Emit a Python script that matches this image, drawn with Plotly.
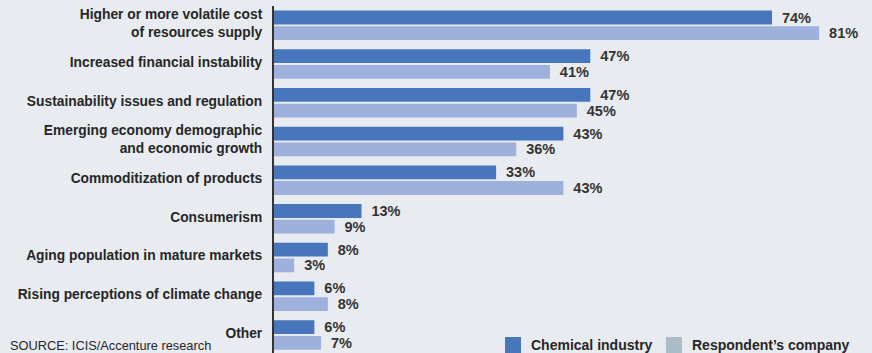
import plotly.graph_objects as go

categories = [
    "Higher or more volatile cost<br>of resources supply",
    "Increased financial instability",
    "Sustainability issues and regulation",
    "Emerging economy demographic<br>and economic growth",
    "Commoditization of products",
    "Consumerism",
    "Aging population in mature markets",
    "Rising perceptions of climate change",
    "Other",
]
chemical_industry = [74, 47, 47, 43, 33, 13, 8, 6, 6]
respondents_company = [81, 41, 45, 36, 43, 9, 3, 8, 7]

DARK = "#4776bc"
LIGHT = "#9eb0dc"
LEGEND_GREY = "#aabcc8"
BG = "#e8ecf0"
TEXT = "#262626"
FONT = "Liberation Sans"

W, H = 872, 353
ML, MT = 274, 6
PX_PER_PCT = 6.73

fig = go.Figure()
for values, name, color in [
    (chemical_industry, "Chemical industry", DARK),
    (respondents_company, "Respondent\u2019s company", LIGHT),
]:
    fig.add_trace(go.Bar(
        y=categories, x=values, orientation="h",
        name=name, marker=dict(color=color, line=dict(width=0)),
        texttemplate="\u00a0\u2009%{x}%", textposition="outside", cliponaxis=False,
        constraintext="none",
        textfont=dict(family=FONT, size=14.5, color="#333333", weight="bold"),
    ))

plot_w = W - ML
plot_h = H - MT
slot = 38.7
y_bottom = -0.5 + plot_h / slot

fig.update_layout(
    width=W, height=H,
    margin=dict(l=ML, r=0, t=MT, b=0),
    paper_bgcolor=BG, plot_bgcolor=BG,
    barmode="group", bargap=0.19, bargroupgap=0.12,
    showlegend=False,
    font=dict(family=FONT, color=TEXT),
    xaxis=dict(range=[0, plot_w / PX_PER_PCT], visible=False, fixedrange=True),
    yaxis=dict(
        range=[y_bottom, -0.5],
        showline=True, linecolor="#333333", linewidth=2,
        showgrid=False, zeroline=False, ticks="",
        ticklabelstandoff=7, ticklabelshift=2,
        tickfont=dict(family=FONT, size=13.8, color=TEXT, weight="bold"),
    ),
)

# source note
fig.add_annotation(
    text="SOURCE: ICIS/Accenture research", xref="paper", yref="paper",
    x=(8 - ML) / plot_w, y=(H - 345) / plot_h, xanchor="left", yanchor="middle",
    showarrow=False, font=dict(family=FONT, size=12.8, color=TEXT),
)

# legend drawn as swatches and labels
def px_x(px):
    return (px - ML) / plot_w

def px_y(py):
    return (H - py) / plot_h

legend_items = [
    (505, DARK, "Chemical industry"),
    (666, LEGEND_GREY, "Respondent\u2019s company"),
]
for x0, color, label in legend_items:
    fig.add_shape(
        type="rect", xref="paper", yref="paper",
        x0=px_x(x0), x1=px_x(x0 + 16), y0=px_y(353), y1=px_y(337),
        fillcolor=color, line=dict(width=0),
    )
    fig.add_annotation(
        text=label, xref="paper", yref="paper",
        x=px_x(x0 + 24), y=px_y(345), xanchor="left", yanchor="middle",
        showarrow=False, font=dict(family=FONT, size=14, color=TEXT, weight="bold"),
    )

fig.write_html("out.html")
